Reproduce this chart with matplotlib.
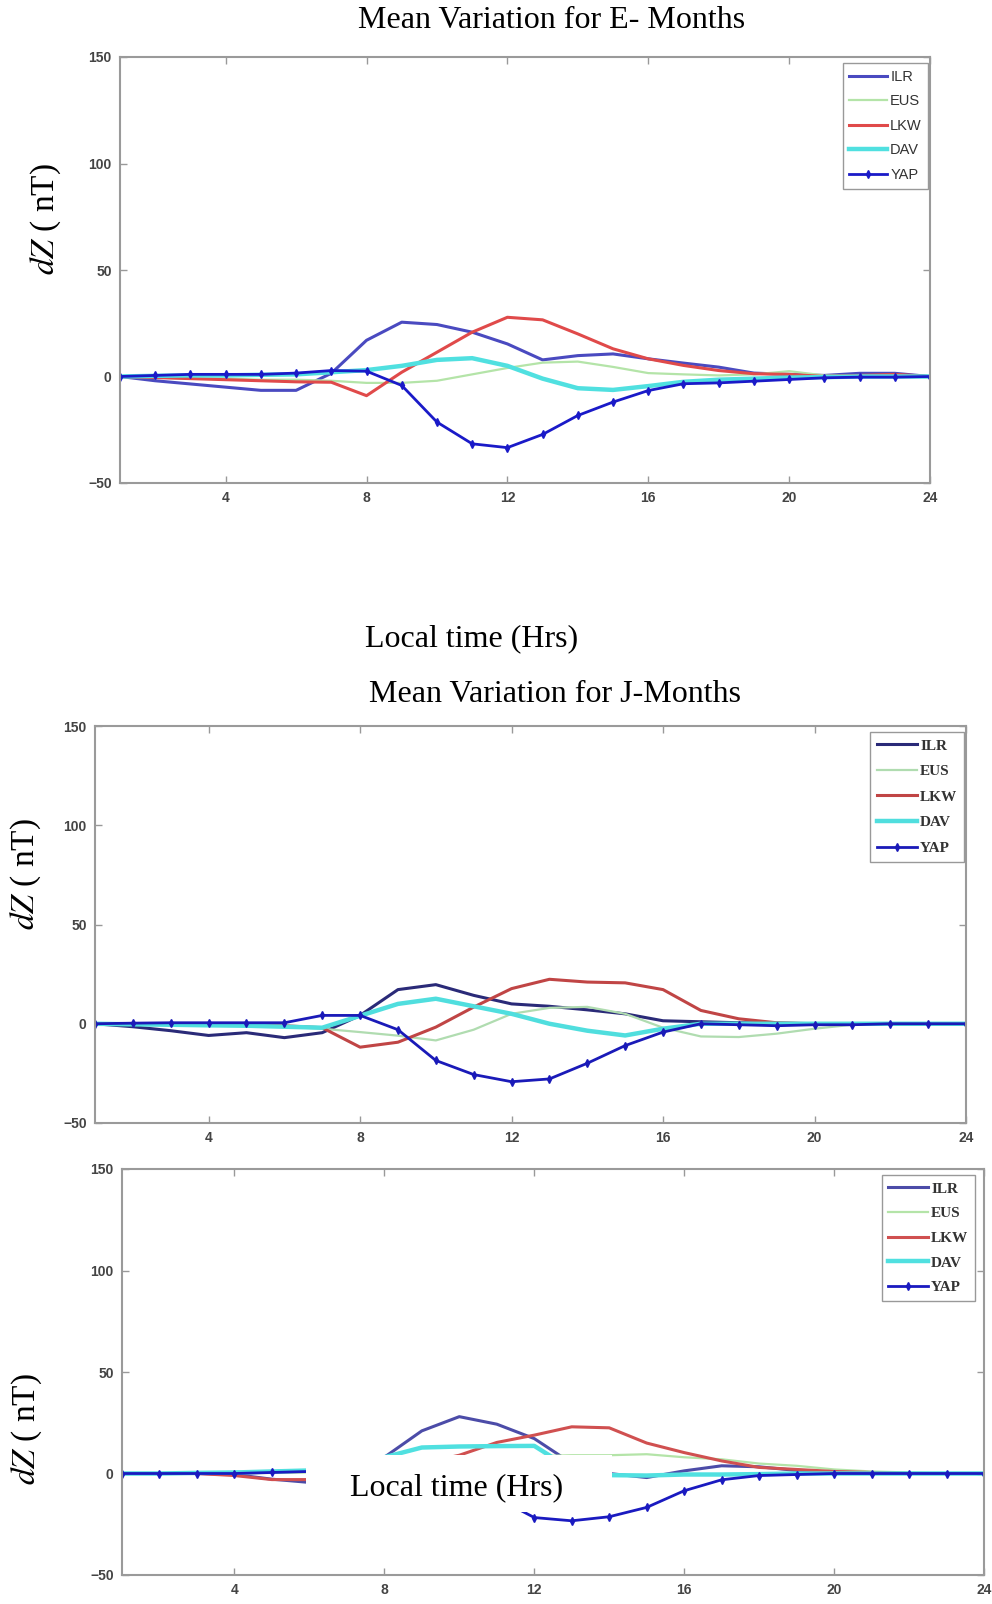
import matplotlib
matplotlib.use("Agg")
import matplotlib.pyplot as plt
from matplotlib.patches import Rectangle

plt.rcParams['mathtext.fontset'] = 'stix'

hours = list(range(1, 25))
stations = ['ILR', 'EUS', 'LKW', 'DAV', 'YAP']

# E-months
e_ilr = [0, -2, -3.5, -5, -6.5, -6.5, 1.5, 17, 25.5, 24.4, 20.8, 15.3, 7.8, 9.8, 10.6, 8.3, 6.3, 4.4, 1.6, 1, 0.5, 1.5, 1.5, 0]
e_eus = [0, -0.5, -1, -1, -1.5, -1.5, -2, -3, -3, -2, 1, 4, 6.5, 7, 4.5, 1.6, 1, 0.5, 1, 2.5, 0.5, 0.3, 0.2, 0]
e_lkw = [0, -0.5, -1, -1.5, -2, -2.5, -2.7, -9, 2, 11.4, 20.8, 27.8, 26.6, 20, 13, 8.3, 5.2, 2.8, 1.3, 1, 0, 0.5, 1, 0]
e_dav = [0, 0.3, 0.5, 0.5, 0.8, 1, 2, 3, 5, 7.8, 8.6, 5, -1, -5.5, -6.3, -4.5, -2.5, -1.5, -1, -0.5, -0.3, 0, 0, 0]
e_yap = [0, 0.5, 1, 1, 1, 1.6, 2.8, 2.5, -4.2, -21.4, -31.6, -33.4, -27.2, -18.3, -12, -6.6, -3.4, -3, -2.2, -1.4, -0.6, -0.3, -0.3, 0]

# J-months
j_ilr = [0, -1.5, -3.5, -5.9, -4.5, -7, -4.5, 4.2, 17.2, 19.7, 14.3, 10, 8.8, 7, 5, 1.5, 1, 0.5, 0.3, 0, 0, 0, 0, 0]
j_eus = [0, -0.3, -0.5, -0.8, -1, -1.5, -2.5, -4.2, -6, -8.4, -3, 5, 8, 8.5, 5, -2, -6.4, -6.7, -5, -2.5, -0.5, 0, 0, 0]
j_lkw = [0, 0, -0.5, -0.5, -0.8, -1, -2, -11.8, -9.3, -1.7, 8.4, 17.7, 22.4, 21, 20.6, 17.2, 6.7, 2.5, 0.5, 0, 0, 0, 0, 0]
j_dav = [0, -0.3, -0.5, -0.8, -1, -1.5, -2, 4, 10, 12.6, 8.8, 5, 0, -3.5, -5.9, -2.5, 0, 0, 0, 0, 0, 0, 0, 0]
j_yap = [0, 0.3, 0.5, 0.5, 0.5, 0.5, 4.2, 4.2, -3, -18.5, -25.6, -29.2, -27.8, -19.9, -11, -4.2, 0, -0.5, -1, -0.5, -0.5, 0, 0, 0]

# third panel
d_ilr = [0, 0, 0, -0.5, -2.8, -4.4, -2, 8, 21, 28, 24.3, 17.2, 5, 0, -2, 1.3, 3.8, 3.3, 1.5, 0.5, 0.3, 0, 0, 0]
d_eus = [0, 0, 0, 0, 0.3, 0.5, 1, 3, 5, 7, 8, 8.5, 9, 9, 9.5, 8, 7, 4.9, 3.8, 2, 1, 0.5, 0, 0]
d_lkw = [0, 0, 0, -1, -3, -3, -1, 2, 5, 9, 15.3, 18.9, 23, 22.5, 15, 10.3, 6.2, 3, 2, 1, 0.5, 0, 0, 0]
d_dav = [0, 0, 0.3, 0.5, 1, 1.5, 3, 8, 12.8, 13.3, 13.5, 13.6, 2, -0.8, -1, -0.5, -0.5, -0.3, 0, 0, 0, 0, 0, 0]
d_yap = [0, 0, 0, 0, 0.5, 1, 1, 0, -4, -10, -12, -21.7, -23.3, -21.3, -16.7, -8.5, -3.1, -1, -0.5, 0, 0, 0, 0, 0]

xticks = [4, 8, 12, 16, 20, 24]
yticks = [-50, 0, 50, 100, 150]

serif = 'Liberation Serif'
sans = 'Liberation Sans'

fig = plt.figure(figsize=(9.92, 16.04), dpi=100)


def panel(rect, data, colors, legend_font, legend_anchor, spacing):
    ax = fig.add_axes(rect)
    ilr, eus, lkw, dav, yap = data
    ax.plot(hours, ilr, color=colors[0], lw=2.2, label='ILR')
    ax.plot(hours, eus, color=colors[1], lw=1.6, label='EUS')
    ax.plot(hours, lkw, color=colors[2], lw=2.2, label='LKW')
    ax.plot(hours, dav, color=colors[3], lw=3.2, label='DAV')
    ax.plot(hours, yap, color=colors[4], lw=2.0, marker='d', ms=4, label='YAP')
    ax.set_xlim(1, 24)
    ax.set_ylim(-50, 150)
    ax.set_xticks(xticks)
    ax.set_yticks(yticks)
    ax.tick_params(direction='in', top=True, right=True, length=5, width=1,
                   color='#999999', labelsize=10, labelcolor='#444444', pad=6)
    for lab in ax.get_xticklabels() + ax.get_yticklabels():
        lab.set_family(sans)
        lab.set_weight('bold')
    for s in ax.spines.values():
        s.set_color('#9a9a9a')
        s.set_linewidth(1.5)
    ax.set_ylabel(r'$dZ$ ( nT)', fontsize=24, family=serif)
    leg = ax.legend(loc='upper right', bbox_to_anchor=legend_anchor, prop=legend_font,
                    fancybox=False, edgecolor='#999999', framealpha=1,
                    handlelength=2.6, handletextpad=0.2, labelspacing=spacing,
                    borderpad=0.45, borderaxespad=0)
    for t in leg.get_texts():
        t.set_color('#333333')
    return ax


colors1 = ['#4a4ac0', '#b4e4a8', '#e04a4a', '#50e0e0', '#1a1ac8']
colors2 = ['#2a2a78', '#b0dcb0', '#c04545', '#50dede', '#1a1ab8']
colors3 = ['#4c4ca8', '#b4e4a8', '#d05050', '#50e0e0', '#1a1ac0']

ax1 = panel([120 / 992, 1 - 483 / 1604, 810 / 992, 426 / 1604],
            [e_ilr, e_eus, e_lkw, e_dav, e_yap], colors1,
            {'family': sans, 'size': 10.5}, (0.998, 0.985), 0.72)
ax1.yaxis.set_label_coords(-0.07, 0.62)

ax2 = panel([95 / 992, 1 - 1123 / 1604, 871 / 992, 397 / 1604],
            [j_ilr, j_eus, j_lkw, j_dav, j_yap], colors2,
            {'family': serif, 'size': 11, 'weight': 'bold'}, (0.998, 0.985), 0.78)
ax2.yaxis.set_label_coords(-0.06, 0.627)

ax3 = panel([122 / 992, 1 - 1575 / 1604, 862 / 992, 406 / 1604],
            [d_ilr, d_eus, d_lkw, d_dav, d_yap], colors3,
            {'family': serif, 'size': 11, 'weight': 'bold'}, (0.99, 0.985), 0.72)
ax3.yaxis.set_label_coords(-0.09, 0.36)

fig.text(552 / 992, 1 - 21 / 1604, 'Mean Variation for E- Months', ha='center', va='center',
         family=serif, fontsize=23)
fig.text(472 / 992, 1 - 639 / 1604, 'Local time (Hrs)', ha='center', va='center',
         family=serif, fontsize=23)
fig.text(555 / 992, 1 - 694 / 1604, 'Mean Variation for J-Months', ha='center', va='center',
         family=serif, fontsize=23)

# white box pasted over the third panel
fig.patches.append(Rectangle((306 / 992, 1 - 1512 / 1604), 306 / 992, 57 / 1604,
                             transform=fig.transFigure, fc='white', ec='none', zorder=9))
fig.text(457 / 992, 1 - 1488 / 1604, 'Local time (Hrs)', ha='center', va='center',
         family=serif, fontsize=23, zorder=10)

fig.savefig('out.png', dpi=100)
